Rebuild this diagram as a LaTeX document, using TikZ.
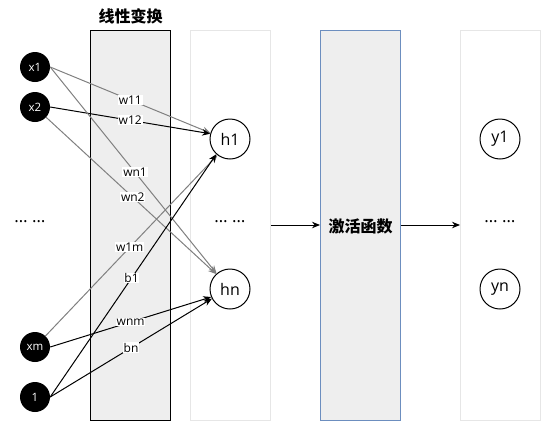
\documentclass[tikz,border=0pt]{standalone}
\usepackage{fontspec}
\setmainfont{Open Sans}
\newfontfamily\cjk{Noto Sans CJK SC}
\usetikzlibrary{arrows.meta}
\definecolor{boxfill}{HTML}{EEEEEE}
\definecolor{lightborder}{HTML}{E6E6E6}
\definecolor{blueborder}{HTML}{6C8EBF}
\definecolor{edgegray}{HTML}{808080}
\tikzset{
  inp/.style={circle, fill=black, text=white, minimum size=30pt, inner sep=0pt, font=\fontsize{11.5}{13}\selectfont},
  hnode/.style={circle, draw=black, fill=white, line width=1pt, minimum size=40pt, inner sep=0pt, font=\fontsize{16}{18}\selectfont},
  colbox/.style={rectangle, minimum width=80pt, minimum height=390pt, inner sep=0pt, line width=1pt},
  lbl/.style={fill=white, inner sep=0.8pt, font=\fontsize{12}{14}\selectfont},
  wedge/.style={line width=1pt, -{Stealth[length=8pt,width=6.5pt]}},
  grayedge/.style={wedge, draw=edgegray},
  dots/.style={font=\fontsize{17}{19}\selectfont, anchor=base, inner sep=0pt},
  titletext/.style={font=\cjk\bfseries\fontsize{16}{18}\selectfont, inner sep=0pt}
}
\begin{document}
\begin{tikzpicture}[x=1pt, y=-1pt]
\useasboundingbox (0,0) rectangle (541,421);
% columns
\node[colbox, draw=black, fill=boxfill] (lin) at (130.5,225) {};
\node[colbox, draw=lightborder, fill=white] (hid) at (230.5,225) {};
\node[colbox, draw=blueborder, fill=boxfill] (act) at (360.5,225) {};
\node[colbox, draw=lightborder, fill=white] (out) at (500.5,225) {};
\node[titletext] (title) at (130.5,16) {线性变换};
\node[titletext] (acttext) at (360.5,226) {激活函数};
% inputs
\node[inp] (x1) at (35,67) {x1};
\node[inp] (x2) at (35,107) {x2};
\node[inp] (xm) at (35,347) {xm};
\node[inp] (one) at (35,397) {1};
\node[dots] (ldots) at (30,222) {… …};
% hidden
\node[hnode] (h1) at (230,139) {h1};
\node[hnode] (hn) at (230,289) {hn};
\node[dots] (mdots) at (230,222) {… …};
% outputs
\node[hnode] (y1) at (500,139) {y1};
\node[hnode] (yn) at (500,289) {yn};
\node[dots] (rdots) at (500,222) {… …};
% edges
\draw[grayedge] (x1.east) -- node[lbl, pos=0.5] {w11} (h1.163);
\draw[wedge] (x2.east) -- node[lbl, pos=0.5] {w12} (h1.165);
\draw[grayedge] (x1.east) -- node[lbl, pos=0.51] {wn1} (hn.131);
\draw[grayedge] (x2) -- node[lbl, pos=0.51] {wn2} (hn.133);
\draw[grayedge] (xm) -- node[lbl, pos=0.49] {w1m} (h1.232);
\draw[wedge] (one.east) -- node[lbl, pos=0.49] {b1} (h1.228);
\draw[wedge] (xm.east) -- node[lbl, pos=0.5] {wnm} (hn.203);
\draw[wedge] (one.east) -- node[lbl, pos=0.5] {bn} (hn.208);
% between columns
\draw[wedge] (hid) -- (act);
\draw[wedge] (act) -- (out);
\end{tikzpicture}
\end{document}
